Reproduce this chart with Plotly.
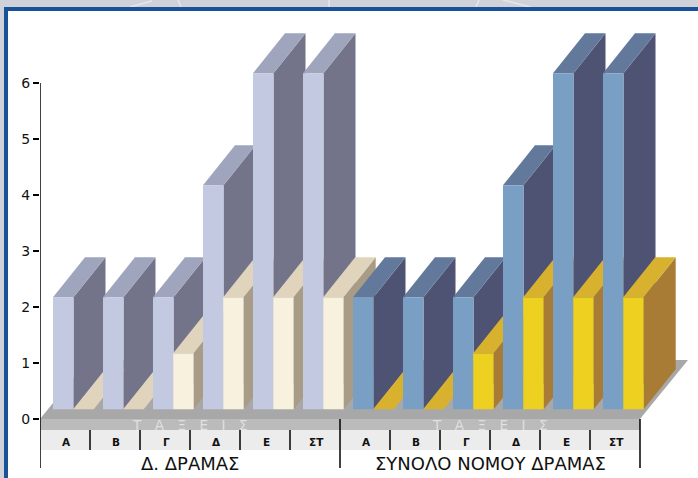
import plotly.graph_objects as go

categories = ["Α", "Β", "Γ", "Δ", "Ε", "ΣΤ"]
groups = ["Δ. ΔΡΑΜΑΣ", "ΣΥΝΟΛΟ ΝΟΜΟΥ ΔΡΑΜΑΣ"]
axis_title = "Τ\u2003Α\u2003Ξ\u2003Ε\u2003Ι\u2003Σ"
tall_values = [[2, 2, 2, 4, 6, 6], [2, 2, 2, 4, 6, 6]]
short_values = [[0, 0, 1, 2, 2, 2], [0, 0, 1, 2, 2, 2]]
y_ticks = [0, 1, 2, 3, 4, 5, 6]

W, H = 698, 478
PX_X = 50.0      # px per category slot
PX_Y = 56.0      # px per value unit
X0, Y0 = 40, 419 # pixel position of axis origin
DX, DY = 32 / PX_X, 40 / PX_Y   # 3D depth
LIFT = 9.7 / PX_Y               # bar base above axis origin
BW = 20.5 / PX_X
OFF_TALL, OFF_SHORT = 13 / PX_X, 33.2 / PX_X

palette = [
    {"tall": ("#c3c9e0", "#9ea5bd", "#73748a"), "short": ("#f7f1de", "#e0d5bc", "#a89c86")},
    {"tall": ("#7a9fc4", "#63799b", "#4f5373"), "short": ("#edd020", "#d8b22e", "#a87c35")},
]

fig = go.Figure()
z = [0]


def poly(xs, ys, color):
    z[0] += 1
    fig.add_trace(go.Scatter(x=xs, y=ys, mode="lines", fill="toself", fillcolor=color,
                             line=dict(width=0, color=color), hoverinfo="skip",
                             showlegend=False, zorder=z[0]))


def bar3d(left, value, colors):
    front, top, side = colors
    right = left + BW
    h = value + LIFT
    if value > 0:
        poly([right, right + DX, right + DX, right, right],
             [LIFT, LIFT + DY, h + DY, h, LIFT], side)
    poly([left, right, right + DX, left + DX, left], [h, h, h + DY, h + DY, h], top)
    z[0] += 1
    fig.add_trace(go.Bar(x=[left + BW / 2], y=[value], base=[LIFT], width=[BW],
                         marker=dict(color=front, line=dict(width=0)),
                         hoverinfo="skip", showlegend=False, zorder=z[0]))


n = len(categories)
for g in range(len(groups)):
    for i in range(n):
        slot = g * n + i
        bar3d(slot + OFF_TALL, tall_values[g][i], palette[g]["tall"])
        bar3d(slot + OFF_SHORT, short_values[g][i], palette[g]["short"])

END = len(groups) * n
shapes = []


def rect_px(x0, y0, x1, y1, color):
    shapes.append(dict(type="rect", xref="paper", yref="paper", x0=x0 / W, x1=x1 / W,
                       y0=1 - y0 / H, y1=1 - y1 / H, fillcolor=color, line_width=0, layer="below"))


rect_px(0, 0, W, 8, "#d0d2da")
rect_px(0, 0, 4, H, "#d0d2da")
# faint pale marks of the backdrop in the top strip
for x0, y0, x1, y1 in [(130, 7, 152, 1), (178, 0, 181, 7), (329, 0, 329, 7), (476, 7, 479, 0), (503, 0, 530, 7)]:
    shapes.append(dict(type="line", xref="paper", yref="paper", x0=x0 / W, x1=x1 / W,
                       y0=1 - y0 / H, y1=1 - y1 / H, layer="below",
                       line=dict(color="#e6e7ec", width=1.5)))
rect_px(4, 7, W, 11, "#1a5299")
rect_px(4, 7, 8, H, "#1a5299")

Y_BAND = -11 / PX_Y
Y_CELL = -31 / PX_Y
Y_END = -49 / PX_Y
shapes.append(dict(type="path", xref="x", yref="y", layer="below", fillcolor="#a8a8a8", line_width=0,
                   path=f"M 0 0 L {END} 0 L {END + 48 / PX_X} {59 / PX_Y} L {48 / PX_X} {59 / PX_Y} Z"))
shapes.append(dict(type="rect", xref="x", yref="y", layer="below", x0=0, x1=END, y0=Y_BAND, y1=0,
                   fillcolor="#bbbbbb", line_width=0))
shapes.append(dict(type="rect", xref="x", yref="y", layer="below", x0=0, x1=END, y0=Y_CELL, y1=Y_BAND,
                   fillcolor="#ececec", line_width=0))
for s in range(END + 1):
    major = s % n == 0
    y0 = Y_END if major else Y_CELL
    y1 = 0 if major else Y_BAND
    if s == 0:
        y1 = 6
    shapes.append(dict(type="line", xref="x", yref="y", x0=s, x1=s, y0=y0, y1=y1,
                       line=dict(color="#000000", width=1.5)))

ann = []
for g, name in enumerate(groups):
    ann.append(dict(x=(g + 0.5) * n, y=-44 / PX_Y, text=name, showarrow=False, xref="x", yref="y",
                    font=dict(family="DejaVu Sans", size=18, color="#111111")))
    ann.append(dict(x=(g + 0.5) * n, y=-5.5 / PX_Y, text=axis_title, showarrow=False, xref="x", yref="y",
                    font=dict(family="DejaVu Sans", size=13.5, color="#e0e0e0")))
    for i, c in enumerate(categories):
        ann.append(dict(x=g * n + i + 0.5 + 0.02, y=-22.5 / PX_Y, text=c, showarrow=False, xref="x", yref="y",
                        font=dict(family="DejaVu Sans", size=10.5, color="#111111", weight="bold")))

fig.update_layout(
    width=W, height=H, margin=dict(l=0, r=0, t=0, b=0, pad=0, autoexpand=False),
    paper_bgcolor="#ffffff", plot_bgcolor="rgba(0,0,0,0)", barmode="overlay",
    shapes=shapes, annotations=ann, showlegend=False,
    xaxis=dict(domain=[X0 / W, 1], range=[0, (W - X0) / PX_X], visible=False, fixedrange=True),
    yaxis=dict(domain=[0, 1], range=[(Y0 - H) / PX_Y, Y0 / PX_Y], tickvals=y_ticks,
               ticks="outside", ticklen=6, tickwidth=1.5, tickcolor="#000000", showgrid=False,
               zeroline=False, showline=False, fixedrange=True,
               tickfont=dict(family="DejaVu Sans", size=14, color="#111111")),
)

fig.write_html("out.html", config={"displayModeBar": False},
               post_script="document.body.style.margin='0';")
